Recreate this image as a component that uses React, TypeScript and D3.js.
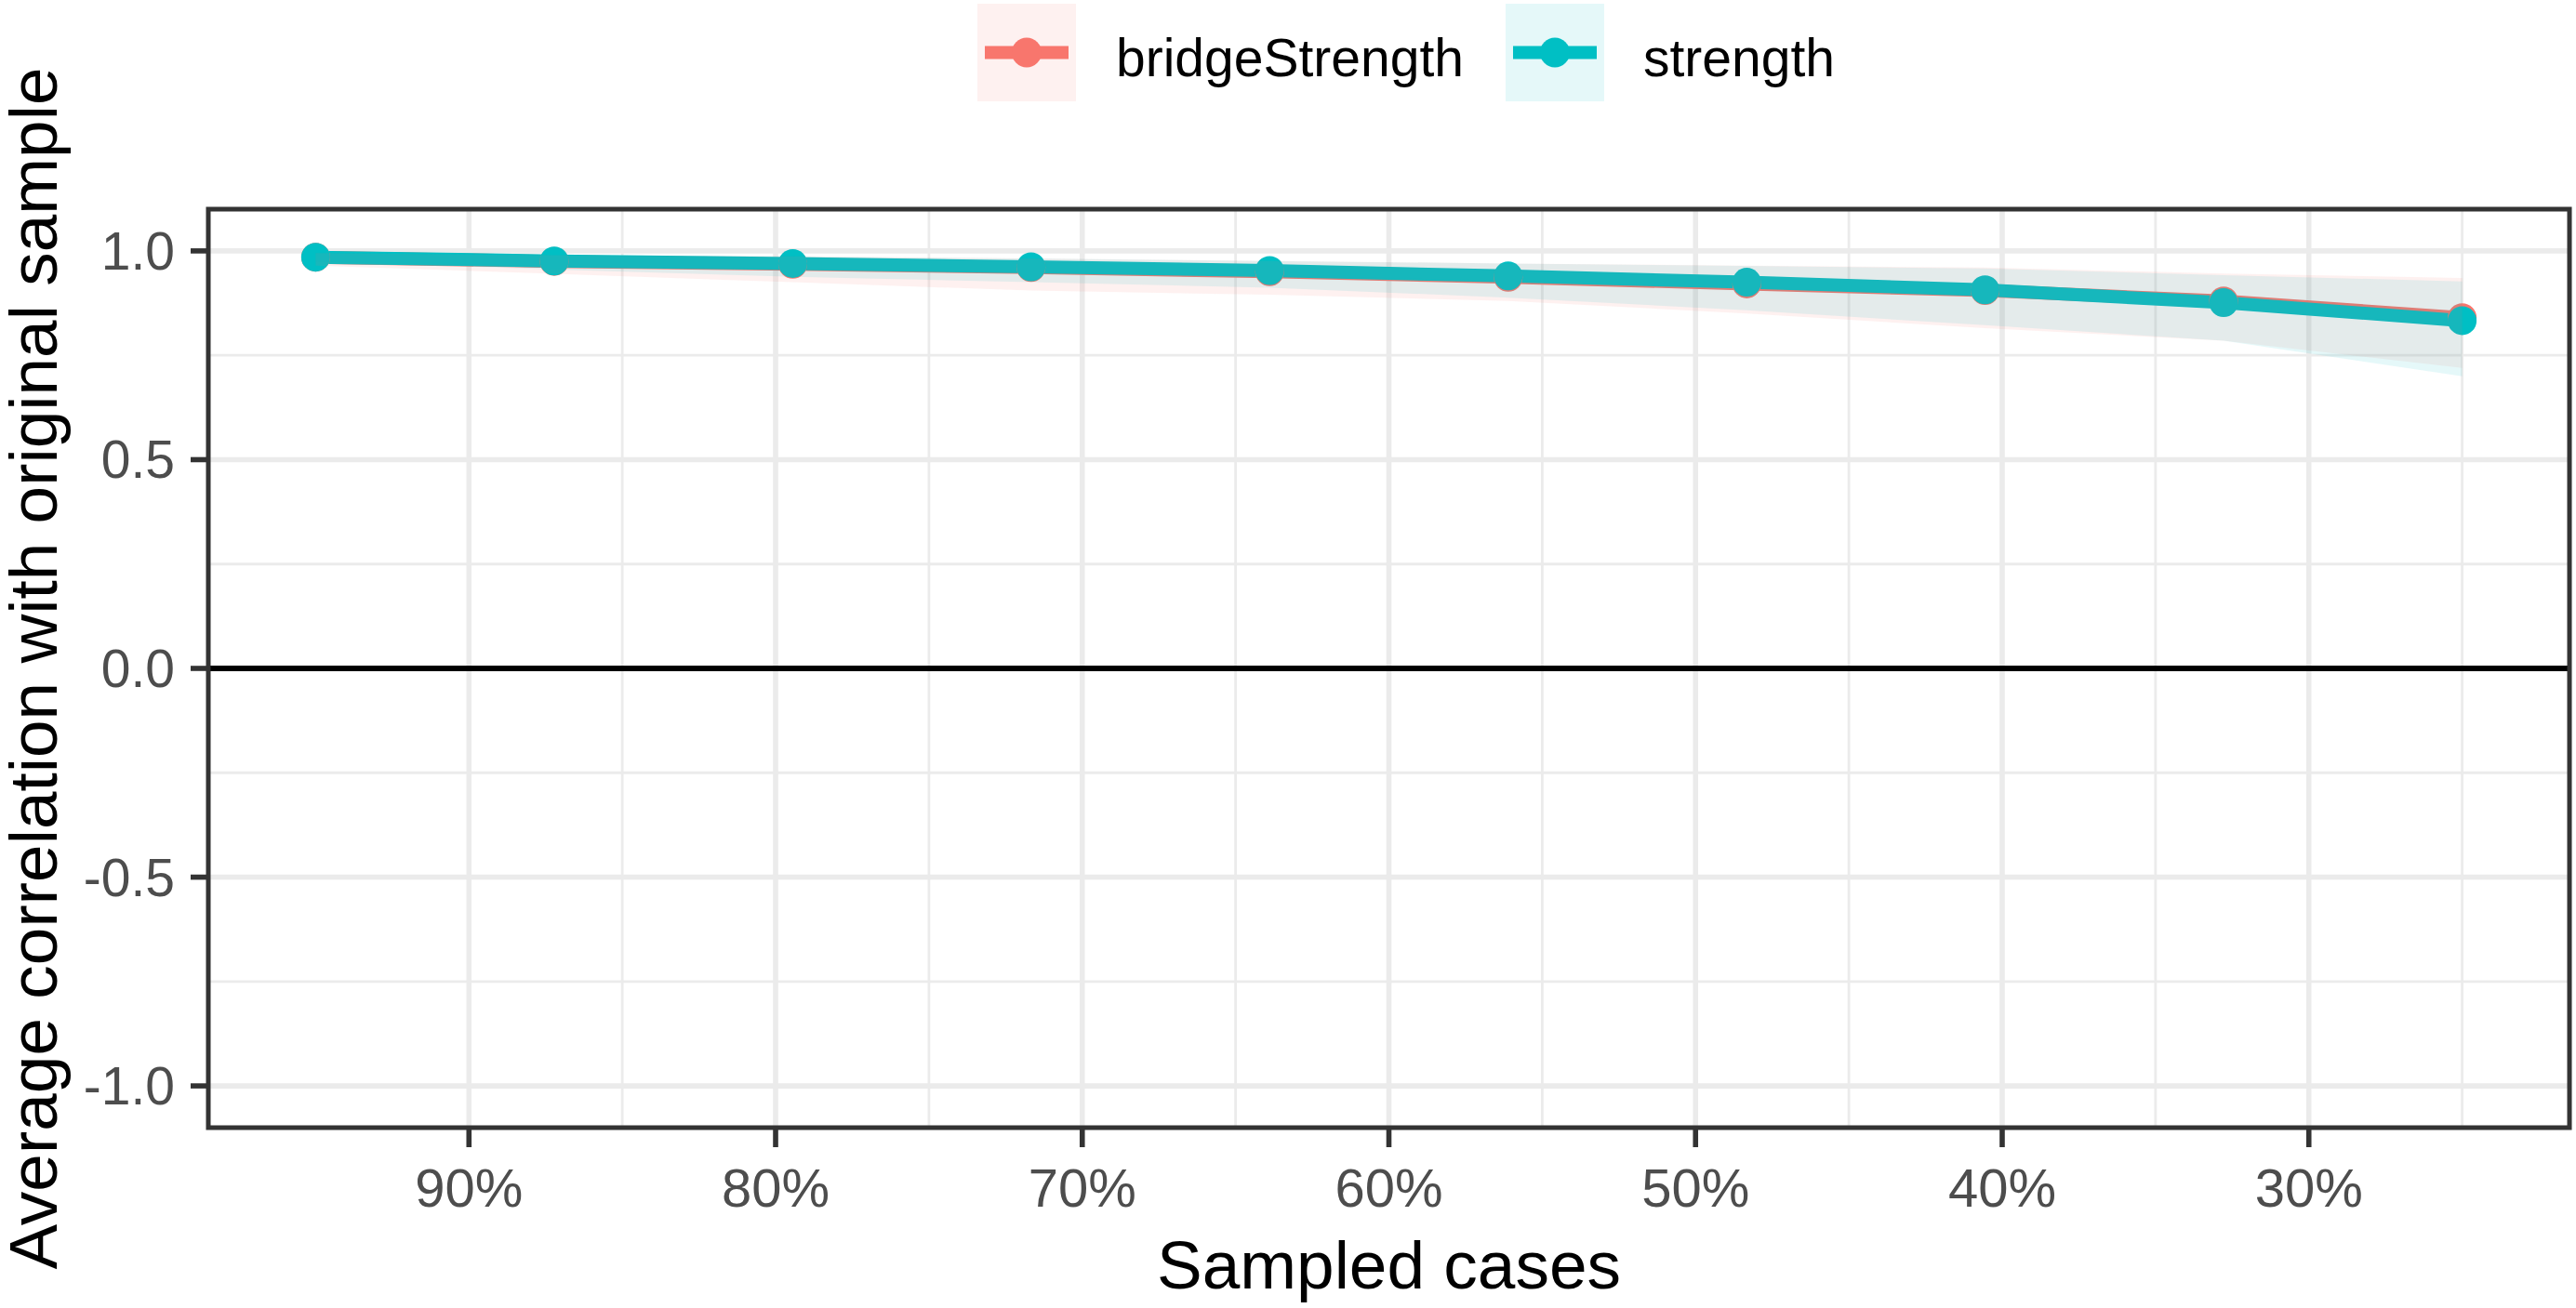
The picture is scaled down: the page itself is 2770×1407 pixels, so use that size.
import React from "react";
import * as d3 from "d3";

const W = 2770;
const H = 1407;

const cases = [0.95, 0.8722, 0.7944, 0.7167, 0.6389, 0.5611, 0.4833, 0.4056, 0.3278, 0.25];
const strengthMean = [0.985, 0.976, 0.97, 0.962, 0.953, 0.94, 0.925, 0.907, 0.876, 0.833];
const strengthLow = [0.975, 0.955, 0.938, 0.925, 0.912, 0.888, 0.858, 0.822, 0.785, 0.7];
const strengthHigh = [0.995, 0.99, 0.987, 0.982, 0.976, 0.97, 0.964, 0.958, 0.942, 0.927];
const bridgeMean = [0.985, 0.975, 0.968, 0.96, 0.95, 0.937, 0.921, 0.905, 0.88, 0.84];
const bridgeLow = [0.965, 0.945, 0.925, 0.905, 0.895, 0.88, 0.85, 0.815, 0.785, 0.72];
const bridgeHigh = [0.995, 0.99, 0.987, 0.982, 0.976, 0.97, 0.965, 0.96, 0.946, 0.935];

const xTicks = [0.9, 0.8, 0.7, 0.6, 0.5, 0.4, 0.3];
const xMinor = [0.85, 0.75, 0.65, 0.55, 0.45, 0.35, 0.25];
const yTicks = [-1, -0.5, 0, 0.5, 1];
const yMinor = [-0.75, -0.25, 0.25, 0.75];

const seriesNames = ["bridgeStrength", "strength"];
const seriesColors = ["#F8766D", "#00BFC4"];

const FONT = "'Liberation Sans', Arial, sans-serif";

export default function App() {
  const left = 224, right = 2763, top = 225, bottom = 1213;
  const x = d3.scaleLinear().domain([0.985, 0.215]).range([left, right]);
  const y = d3.scaleLinear().domain([-1.1, 1.1]).range([bottom, top]);

  const series = [
    { name: seriesNames[0], color: seriesColors[0], mean: bridgeMean, lo: bridgeLow, hi: bridgeHigh },
    { name: seriesNames[1], color: seriesColors[1], mean: strengthMean, lo: strengthLow, hi: strengthHigh },
  ];

  const line = d3.line<number>().x((_, i) => x(cases[i])).y((d) => y(d));
  const area = (lo: number[], hi: number[]) =>
    d3
      .area<number>()
      .x((_, i) => x(cases[i]))
      .y0((_, i) => y(lo[i]))
      .y1((_, i) => y(hi[i]))(cases);

  const fmtPct = d3.format(".0%");
  const fmtY = (v: number) => d3.format(".1f")(v).replace("\u2212", "-");

  const legendItems = [
    { keyX: 1051, textX: 1200 },
    { keyX: 1619, textX: 1767 },
  ];

  return (
    <svg
      width={W}
      height={H}
      style={{ position: "absolute", left: 0, top: 0, background: "#fff" }}
      fontFamily={FONT}
    >
      <rect x={0} y={0} width={W} height={H} fill="#fff" />
      {yMinor.map((v) => (
        <line key={"ym" + v} x1={left} x2={right} y1={y(v)} y2={y(v)} stroke="#EBEBEB" strokeWidth={2.8} />
      ))}
      {xMinor.map((v) => (
        <line key={"xm" + v} x1={x(v)} x2={x(v)} y1={top} y2={bottom} stroke="#EBEBEB" strokeWidth={2.8} />
      ))}
      {yTicks.map((v) => (
        <line key={"yg" + v} x1={left} x2={right} y1={y(v)} y2={y(v)} stroke="#EBEBEB" strokeWidth={5.6} />
      ))}
      {xTicks.map((v) => (
        <line key={"xg" + v} x1={x(v)} x2={x(v)} y1={top} y2={bottom} stroke="#EBEBEB" strokeWidth={5.6} />
      ))}
      <line x1={left} x2={right} y1={y(0)} y2={y(0)} stroke="#000" strokeWidth={6} />

      {series.map((s) => (
        <path key={"l" + s.name} d={line(s.mean) || ""} fill="none" stroke={s.color} strokeWidth={14} strokeLinejoin="round" />
      ))}
      {series.map((s) =>
        s.mean.map((v, i) => (
          <circle key={"p" + s.name + i} cx={x(cases[i])} cy={y(v)} r={15.5} fill={s.color} />
        ))
      )}
      {series.map((s) => (
        <path key={"a" + s.name} d={area(s.lo, s.hi) || ""} fill={s.color} fillOpacity={0.1} stroke="none" />
      ))}

      <rect x={left} y={top} width={right - left} height={bottom - top} fill="none" stroke="#333333" strokeWidth={5} />

      {yTicks.map((v) => (
        <g key={"yt" + v}>
          <line x1={left - 19} x2={left} y1={y(v)} y2={y(v)} stroke="#333333" strokeWidth={5.6} />
          <text x={188} y={y(v) + 20} textAnchor="end" fontSize={57} fill="#4D4D4D">
            {fmtY(v)}
          </text>
        </g>
      ))}
      {xTicks.map((v) => (
        <g key={"xt" + v}>
          <line x1={x(v)} x2={x(v)} y1={bottom} y2={bottom + 21} stroke="#333333" strokeWidth={5.6} />
          <text x={x(v)} y={1298} textAnchor="middle" fontSize={58} fill="#4D4D4D">
            {fmtPct(v)}
          </text>
        </g>
      ))}

      <text x={(left + right) / 2} y={1386} textAnchor="middle" fontSize={73} fill="#000">
        Sampled cases
      </text>
      <text
        transform={`translate(61, ${(top + bottom) / 2}) rotate(-90)`}
        textAnchor="middle"
        fontSize={73}
        fill="#000"
      >
        Average correlation with original sample
      </text>

      {series.map((s, i) => {
        const k = legendItems[i];
        return (
          <g key={"lg" + s.name}>
            <rect x={k.keyX} y={4} width={106} height={105} fill={s.color} fillOpacity={0.1} />
            <line x1={k.keyX + 8} x2={k.keyX + 98} y1={56.5} y2={56.5} stroke={s.color} strokeWidth={14} />
            <circle cx={k.keyX + 53} cy={56.5} r={16} fill={s.color} />
            <text x={k.textX} y={82} fontSize={57} fill="#000">
              {s.name}
            </text>
          </g>
        );
      })}
    </svg>
  );
}
